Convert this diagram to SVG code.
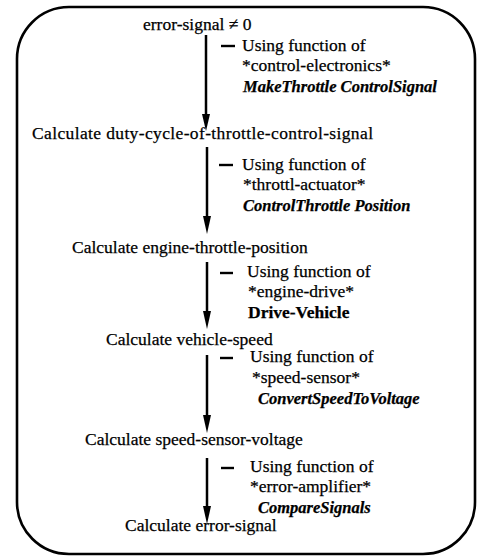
<svg xmlns="http://www.w3.org/2000/svg" width="478" height="557" viewBox="0 0 478 557">
<defs>
<style>
text{font-family:"Liberation Serif","Times New Roman",serif;font-size:17.5px;fill:#000;stroke:#000;stroke-width:0.25}
.bi{font-weight:bold;font-style:italic;font-size:16.5px}
.b{font-weight:bold}
.edge{stroke:#000;stroke-width:2.5;fill:none}
.dash{stroke:#000;stroke-width:2.4}
.head{fill:#000}
</style>
</defs>
<rect x="17" y="7" width="458" height="547" rx="52" ry="52" fill="none" stroke="#000" stroke-width="2.6"/>
<g id="connectors">
<line class="edge" x1="206" y1="35" x2="206" y2="116"/>
<path class="head" d="M202,114 L210,114 L206,131 Z"/>
<line class="edge" x1="207" y1="147" x2="207" y2="218"/>
<path class="head" d="M203,216 L211,216 L207,234 Z"/>
<line class="edge" x1="207" y1="262" x2="207" y2="313"/>
<path class="head" d="M203,311 L211,311 L207,329 Z"/>
<line class="edge" x1="207" y1="355" x2="207" y2="417"/>
<path class="head" d="M203,415 L211,415 L207,433 Z"/>
<line class="edge" x1="207" y1="458" x2="207" y2="508"/>
<path class="head" d="M203,506 L211,506 L207,524 Z"/>
</g>
<g id="n1"><text x="143" y="30">error-signal ≠ 0</text></g>
<g id="a1">
<line class="dash" x1="221" y1="46" x2="235" y2="46"/>
<text x="242" y="51">Using function of</text>
<text x="242" y="71">*control-electronics*</text>
<text class="bi" x="243" y="92">MakeThrottle ControlSignal</text>
</g>
<g id="n2"><text x="32" y="139" textLength="341" lengthAdjust="spacing">Calculate duty-cycle-of-throttle-control-signal</text></g>
<g id="a2">
<line class="dash" x1="219" y1="165" x2="233" y2="165"/>
<text x="242" y="170">Using function of</text>
<text x="243" y="190">*throttl-actuator*</text>
<text class="bi" x="243" y="211">ControlThrottle Position</text>
</g>
<g id="n3"><text x="72" y="253">Calculate engine-throttle-position</text></g>
<g id="a3">
<line class="dash" x1="220" y1="273" x2="233" y2="273"/>
<text x="247" y="277">Using function of</text>
<text x="248" y="297">*engine-drive*</text>
<text class="b" x="248" y="318">Drive-Vehicle</text>
</g>
<g id="n4"><text x="106" y="345">Calculate vehicle-speed</text></g>
<g id="a4">
<line class="dash" x1="220" y1="358" x2="233" y2="358"/>
<text x="250" y="362">Using function of</text>
<text x="252" y="383">*speed-sensor*</text>
<text class="bi" x="258" y="404">ConvertSpeedToVoltage</text>
</g>
<g id="n5"><text x="85" y="445">Calculate speed-sensor-voltage</text></g>
<g id="a5">
<line class="dash" x1="221" y1="468" x2="234" y2="468"/>
<text x="250" y="472">Using function of</text>
<text x="250" y="492">*error-amplifier*</text>
<text class="bi" x="258" y="513">CompareSignals</text>
</g>
<g id="n6"><text x="125" y="531">Calculate error-signal</text></g>
</svg>
